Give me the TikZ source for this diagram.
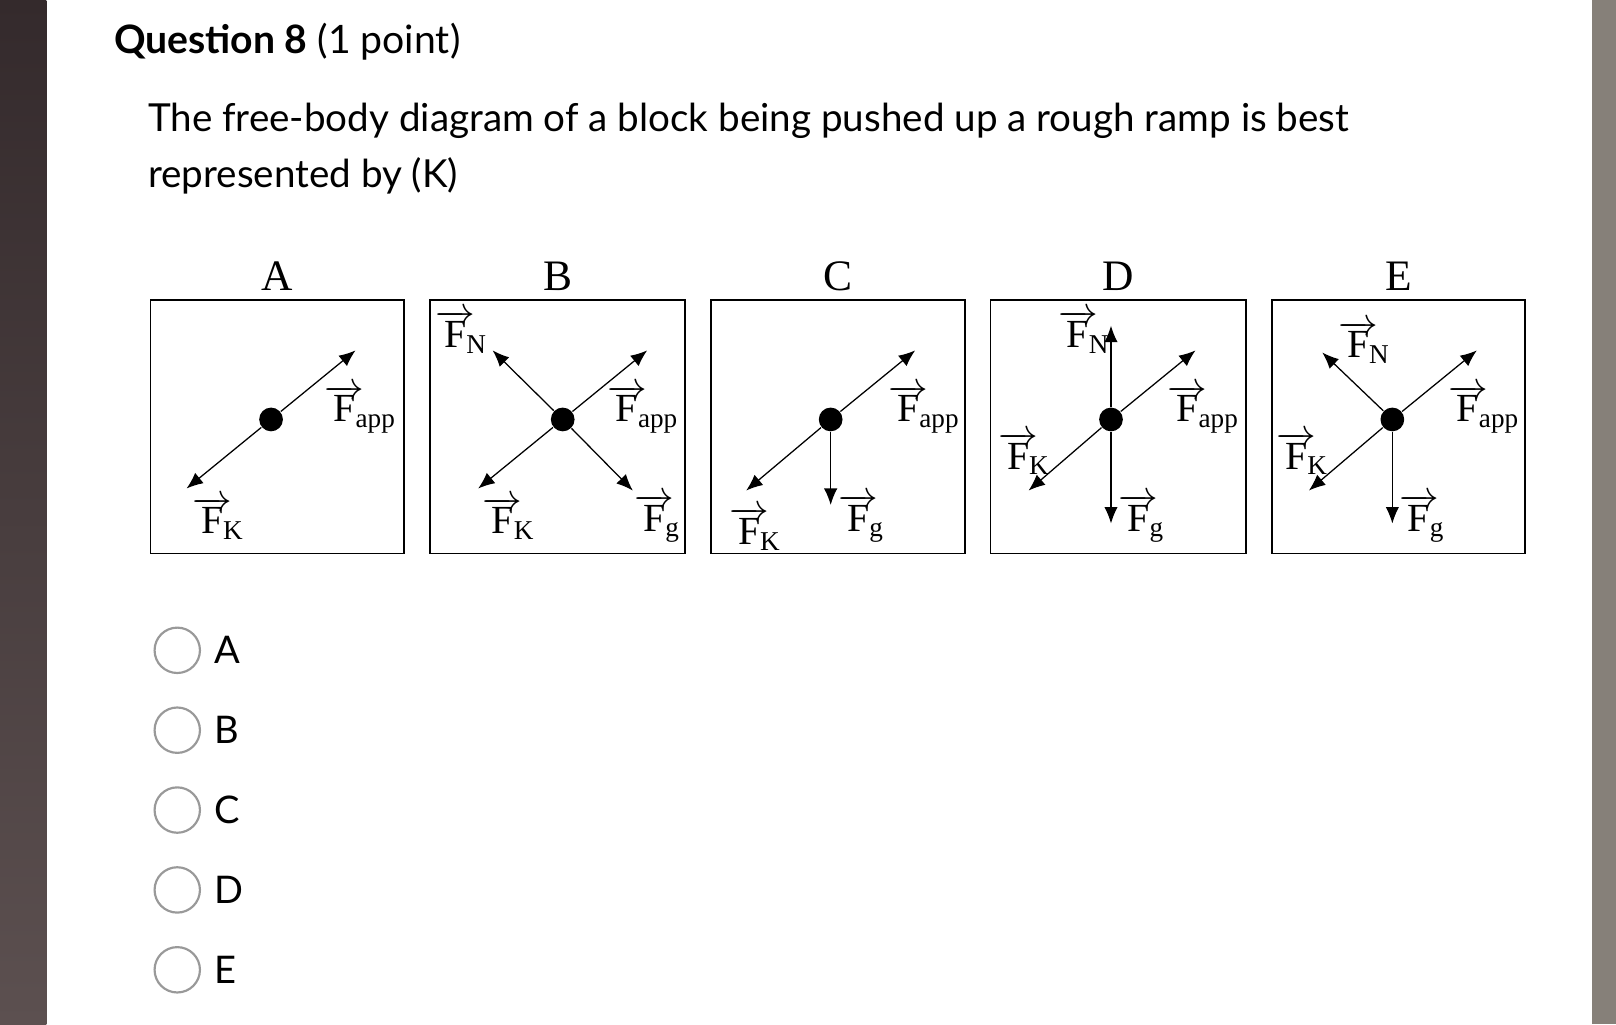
\documentclass[tikz,border=0pt]{standalone}
\usepackage{fontspec}
\setmainfont{Lato}
\newfontfamily\tms{Liberation Serif}
\usetikzlibrary{arrows.meta}
\definecolor{strip}{RGB}{52,42,44}
\definecolor{stripb}{RGB}{92,80,80}
\newcommand{\vF}[1]{$\overrightarrow{\hbox{\tms F}}\mkern-4mu_{\hbox{\tms\fontsize{7.5}{8}\selectfont #1}}$}
\begin{document}
\begin{tikzpicture}[x=0.01cm, y=-0.01cm,
    force/.style = {draw, -{Latex[length=1.6mm,width=1.3mm]}, line width=0.35pt},
    dot/.style = {circle, fill, inner sep=0pt, minimum size=2.3mm},
    frame/.style = {draw, line width=0.5pt},
    lbl/.style = {inner sep=0pt, font=\fontsize{11}{12}\selectfont},
    head/.style = {font=\tms\fontsize{12}{14}\selectfont},
    radio/.style = {draw=gray!80, line width=0.6pt, circle, minimum size=4.4mm, inner sep=0pt}]
\useasboundingbox (0,0) rectangle (1568,994);
\shade[top color=strip, bottom color=stripb] (0,0) rectangle (45,994);
\fill[gray!90!brown] (1545,0) rectangle (1568,994);
% question
\node[anchor=west, inner sep=0pt, font=\fontsize{10.8}{12}\selectfont] (q) at (110,40) {\textbf{Question 8} (1 point)};
\node[anchor=north west, inner sep=0pt, align=left, font=\fontsize{10.65}{15.5}\selectfont] (txt) at (143,99)
  {The free-body diagram of a block being pushed up a rough ramp is best\\ represented by (K)};
% frames
\foreach \n/\x/\w in {A/146/246, B/417/248, C/690/246, D/961/248, E/1234/246}
  \draw[frame] (\x,291) rectangle ++(\w,246)
    node[head] at (\x+\w/2,268) {\n};
% A
\node[dot] (dA) at (263,407) {};
\coordinate (aA) at (345,340); \coordinate (kA) at (181,474);
\draw[force] (dA) -- (aA); \draw[force] (dA) -- (kA);
\node[lbl] (lA1) at (350,397) {\vF{app}};
\node[lbl] (lA2) at (212,503) {\vF{K}};
% B
\node[dot] (dB) at (546,407) {};
\coordinate (aB) at (628,340); \coordinate (kB) at (464,474);
\coordinate (nB) at (478,340); \coordinate (gB) at (614,476);
\draw[force] (dB) -- (aB); \draw[force] (dB) -- (kB);
\draw[force] (dB) -- (nB); \draw[force] (dB) -- (gB);
\node[lbl] (lB1) at (624,397) {\vF{app}};
\node[lbl] (lB2) at (494,503) {\vF{K}};
\node[lbl] (lB3) at (448,322) {\vF{N}};
\node[lbl] (lB4) at (638,503) {\vF{g}};
% C
\node[dot] (dC) at (806,407) {};
\coordinate (aC) at (888,340); \coordinate (kC) at (724,476); \coordinate (gC) at (806,490);
\draw[force] (dC) -- (aC); \draw[force] (dC) -- (kC); \draw[force] (dC) -- (gC);
\node[lbl] (lC1) at (897,397) {\vF{app}};
\node[lbl] (lC2) at (733,513) {\vF{K}};
\node[lbl] (lC3) at (836,503) {\vF{g}};
% D
\node[dot] (dD) at (1078,407) {};
\coordinate (aD) at (1160,340); \coordinate (kD) at (998,476);
\coordinate (nD) at (1078,316); \coordinate (gD) at (1078,508);
\draw[force] (dD) -- (aD); \draw[force] (dD) -- (kD);
\draw[force] (dD) -- (nD); \draw[force] (dD) -- (gD);
\node[lbl] (lD1) at (1168,397) {\vF{app}};
\node[lbl] (lD2) at (994,440) {\vF{K}};
\node[lbl] (lD3) at (1052,322) {\vF{N}};
\node[lbl] (lD4) at (1108,503) {\vF{g}};
% E
\node[dot] (dE) at (1351,407) {};
\coordinate (aE) at (1433,340); \coordinate (kE) at (1270,476);
\coordinate (nE) at (1283,342); \coordinate (gE) at (1351,508);
\draw[force] (dE) -- (aE); \draw[force] (dE) -- (kE);
\draw[force] (dE) -- (nE); \draw[force] (dE) -- (gE);
\node[lbl] (lE1) at (1440,397) {\vF{app}};
\node[lbl] (lE2) at (1264,440) {\vF{K}};
\node[lbl] (lE3) at (1324,332) {\vF{N}};
\node[lbl] (lE4) at (1380,503) {\vF{g}};
% options
\foreach \o [count=\i from 0] in {A,B,C,D,E} {
  \node[radio] (r\o) at (172,631+77.5*\i) {};
  \node[anchor=west, inner sep=0pt, font=\fontsize{10.5}{12}\selectfont] (t\o) at (207,631+77.5*\i) {\o};
}
\end{tikzpicture}
\end{document}
